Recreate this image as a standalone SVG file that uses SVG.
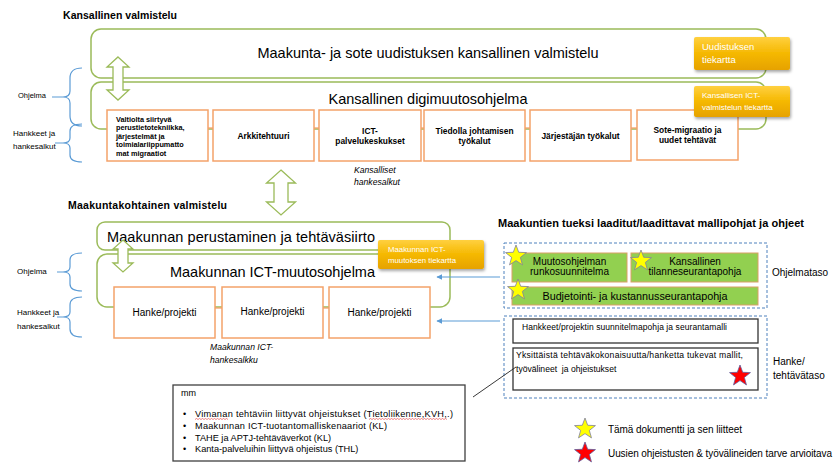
<svg xmlns="http://www.w3.org/2000/svg" width="836" height="468" viewBox="0 0 836 468">
<defs>
<style>
text{font-family:"Liberation Sans",Arial,sans-serif;fill:#000}
.h{font-weight:bold;font-size:10.5px}
.big{font-size:14.5px}
.gbox{fill:#fff;stroke:#9bbb59;stroke-width:1.5}
.obox{fill:#fff;stroke:#f4a26a;stroke-width:1.5}
.ob{font-weight:bold;font-size:8.4px}
.lbl{font-size:8px}
.it{font-style:italic;font-size:8.6px}
.brace{fill:none;stroke:#5b9bd5;stroke-width:1.2}
.dash{fill:none;stroke:#4f81bd;stroke-width:1;stroke-dasharray:3 2}
.grn{fill:#92d050;stroke:#d9a066;stroke-width:1}
.wbox{fill:#fff;stroke:#333;stroke-width:1.3}
.ybox{fill:url(#gold);filter:url(#sh)}
.yt{fill:#fff}
.darr{fill:#fff;stroke:#9bbb59;stroke-width:1.3}
.conn{stroke:#f4a26a;stroke-width:1.3}
.barr{stroke:#5b9bd5;stroke-width:1.2;marker-end:url(#bh)}
.ystar{fill:#ffff00;stroke:#8080a0;stroke-width:0.8}
.rstar{fill:#ff0000;stroke:#6060a0;stroke-width:0.8}
.sq{fill:none;stroke:#e03030;stroke-width:0.6}
</style>
<linearGradient id="gold" x1="0" y1="0" x2="0" y2="1">
<stop offset="0" stop-color="#ffd040"/>
<stop offset="0.5" stop-color="#f5b800"/>
<stop offset="1" stop-color="#e6a200"/>
</linearGradient>
<filter id="sh" x="-10%" y="-20%" width="130%" height="150%">
<feDropShadow dx="1" dy="2" stdDeviation="1.5" flood-color="#000" flood-opacity="0.35"/>
</filter>
<marker id="bh" viewBox="0 0 10 10" refX="9" refY="5" markerWidth="6" markerHeight="6" orient="auto" markerUnits="userSpaceOnUse">
<path d="M0,0 L10,5 L0,10 z" fill="#5b9bd5"/>
</marker>
<path id="star" d="M0,-11 L2.7,-3.72 L10.46,-3.4 L4.37,1.42 L6.47,8.9 L0,4.6 L-6.47,8.9 L-4.37,1.42 L-10.46,-3.4 L-2.7,-3.72 Z"/>
</defs>

<!-- Headings -->
<text class="h" x="63" y="19" textLength="114">Kansallinen valmistelu</text>
<text class="h" x="68" y="209" textLength="159">Maakuntakohtainen valmistelu</text>
<text class="h" style="font-size:11px" x="498" y="227" textLength="306">Maakuntien tueksi laaditut/laadittavat mallipohjat ja ohjeet</text>

<!-- Left labels and braces -->
<g id="labels-left">
<text class="lbl" style="font-size:7.5px" x="18" y="97.5">Ohjelma</text>
<text class="lbl" x="13" y="136">Hankkeet ja</text>
<text class="lbl" x="13" y="149">hankesalkut</text>
<text class="lbl" x="17" y="274">Ohjelma</text>
<text class="lbl" x="17" y="315">Hankkeet ja</text>
<text class="lbl" x="17" y="329">hankesalkut</text>
<path class="brace" d="M82,68 Q70,68 70,78 L70,91 Q70,97 63,97 Q70,97 70,103 L70,116 Q70,126 82,126 M52,97 L63,97"/>
<path class="brace" d="M82,124 Q70,124 70,131 L70,138 Q70,143 63,143 Q70,143 70,148 L70,155 Q70,162 82,162 M55,143 L63,143"/>
<path class="brace" d="M82,253 Q70,253 70,260 L70,267 Q70,272 63,272 Q70,272 70,277 L70,284 Q70,291 82,291 M57,272 L63,272"/>
<path class="brace" d="M82,297 Q70,297 70,305 L70,312 Q70,317 63,317 Q70,317 70,322 L70,329 Q70,337 82,337 M57,317 L63,317"/>
</g>

<!-- National level -->
<g id="kansallinen-valmistelu">
<rect class="gbox" x="91" y="29" width="675" height="49" rx="10"/>
<text class="big" x="428" y="58" text-anchor="middle" textLength="341">Maakunta- ja sote uudistuksen kansallinen valmistelu</text>
</g>
<g id="digimuutosohjelma">
<rect class="gbox" x="91" y="82" width="675" height="47" rx="10"/>
<text class="big" x="428" y="104" text-anchor="middle" textLength="199">Kansallinen digimuutosohjelma</text>
</g>

<g id="p1">
<rect class="obox" x="107" y="110" width="101" height="51"/>
<text class="ob" style="font-size:7.3px" x="116" y="121.5">Valtiolta siirtyvä</text>
<text class="ob" style="font-size:7.3px" x="116" y="130">perustietotekniikka,</text>
<text class="ob" style="font-size:7.3px" x="116" y="138.5">järjestelmät ja</text>
<text class="ob" style="font-size:7.3px" x="116" y="147">toimialariippumatto</text>
<text class="ob" style="font-size:7.3px" x="116" y="155.5">mat migraatiot</text>
</g>
<g id="p2">
<rect class="obox" x="213" y="110" width="101" height="51"/>
<text class="ob" x="263.5" y="138.5" text-anchor="middle">Arkkitehtuuri</text>
</g>
<g id="p3">
<rect class="obox" x="319" y="110" width="102" height="51"/>
<text class="ob" x="370" y="133.5" text-anchor="middle">ICT-</text>
<text class="ob" x="370" y="143.5" text-anchor="middle">palvelukeskukset</text>
</g>
<g id="p4">
<rect class="obox" x="424" y="110" width="101" height="51"/>
<text class="ob" x="474.5" y="133.5" text-anchor="middle">Tiedolla johtamisen</text>
<text class="ob" x="474.5" y="143.5" text-anchor="middle">työkalut</text>
</g>
<g id="p5">
<rect class="obox" x="530" y="110" width="101" height="51"/>
<text class="ob" x="580.5" y="138.5" text-anchor="middle">Järjestäjän työkalut</text>
</g>
<g id="p6">
<rect class="obox" x="637" y="110" width="101" height="50"/>
<text class="ob" x="687.5" y="133" text-anchor="middle">Sote-migraatio ja</text>
<text class="ob" x="687.5" y="143" text-anchor="middle">uudet tehtävät</text>
</g>

<g id="uudistuksen-tiekartta">
<rect class="ybox" x="694" y="37" width="96" height="33" rx="2"/>
<text class="yt" style="font-size:9.5px" x="702" y="50">Uudistuksen</text>
<text class="yt" style="font-size:9.5px" x="702" y="63">tiekartta</text>
</g>
<g id="ict-tiekartta">
<rect class="ybox" x="694" y="86" width="96" height="31" rx="2"/>
<text class="yt" style="font-size:8px" x="702" y="98">Kansallisen ICT-</text>
<text class="yt" style="font-size:8px" x="702" y="110">valmistelun tiekartta</text>
</g>

<text class="it" x="354" y="173">Kansalliset</text>
<text class="it" x="354" y="185">hankesalkut</text>

<!-- Regional level -->
<g id="perustaminen">
<rect class="gbox" x="97" y="222" width="353" height="28" rx="8"/>
<text class="big" x="107" y="242" textLength="268">Maakunnan perustaminen ja tehtäväsiirto</text>
</g>
<g id="ict-muutosohjelma">
<rect class="gbox" x="97" y="254" width="353" height="53" rx="10"/>
<text class="big" x="170" y="277" textLength="205">Maakunnan ICT-muutosohjelma</text>
</g>

<g id="maakunta-tiekartta">
<rect class="ybox" x="378" y="240" width="106" height="29" rx="2"/>
<text class="yt" style="font-size:7.8px" x="388" y="252">Maakunnan ICT-</text>
<text class="yt" style="font-size:7.8px" x="388" y="263">muutoksen tiekartta</text>
</g>

<g id="h1">
<rect class="obox" x="114" y="287" width="101" height="51"/>
<text x="164.5" y="316" text-anchor="middle" style="font-size:10px">Hanke/projekti</text>
</g>
<g id="h2">
<rect class="obox" x="222" y="287" width="101" height="51"/>
<text x="272.5" y="315" text-anchor="middle" style="font-size:10px">Hanke/projekti</text>
</g>
<g id="h3">
<rect class="obox" x="329" y="287" width="101" height="51"/>
<text x="379.5" y="316" text-anchor="middle" style="font-size:10px">Hanke/projekti</text>
</g>

<text class="it" x="210" y="350">Maakunnan ICT-</text>
<text class="it" x="210" y="363">hankesalkku</text>

<!-- Right side templates -->
<g id="ohjelmataso">
<rect class="dash" x="504" y="243" width="263" height="65"/>
<text x="772" y="275.5" style="font-size:10px">Ohjelmataso</text>
</g>
<g id="runkosuunnitelma">
<rect class="grn" x="512" y="253" width="115" height="29"/>
<text x="569.5" y="265" text-anchor="middle" style="font-size:10px">Muutosohjelman</text>
<text x="569.5" y="275" text-anchor="middle" style="font-size:10px">runkosuunnitelma</text>
</g>
<g id="tilanneseuranta">
<rect class="grn" x="631" y="253" width="127" height="29"/>
<text x="695" y="265" text-anchor="middle" style="font-size:10px">Kansallinen</text>
<text x="695" y="275" text-anchor="middle" style="font-size:10px">tilanneseurantapohja</text>
</g>
<g id="budjetointi">
<rect class="grn" x="512" y="287" width="246" height="18"/>
<text x="635" y="300" text-anchor="middle" style="font-size:10.8px" textLength="185">Budjetointi- ja kustannusseurantapohja</text>
</g>
<use href="#star" class="ystar" x="516" y="256"/>
<use href="#star" class="ystar" x="641" y="261"/>
<use href="#star" class="ystar" x="518" y="290"/>

<g id="tehtavataso">
<rect class="dash" x="504" y="316" width="263" height="82"/>
<text x="773" y="365" style="font-size:10px">Hanke/</text>
<text x="773" y="378.5" style="font-size:10px">tehtävätaso</text>
</g>
<g id="suunnitelmapohja">
<rect class="wbox" x="513" y="319" width="245" height="24"/>
<text x="522" y="330" style="font-size:8.5px" textLength="205">Hankkeet/projektin suunnitelmapohja ja seurantamalli</text>
</g>
<g id="mallit">
<rect class="wbox" x="513" y="348" width="245" height="42"/>
<text x="516" y="358" style="font-size:8.6px" textLength="227">Yksittäistä tehtäväkokonaisuutta/hanketta tukevat mallit,</text>
<text x="516" y="371.5" style="font-size:8.6px" xml:space="preserve">työvälineet  ja ohjeistukset</text>
<use href="#star" class="rstar" x="740" y="376"/>
</g>

<!-- mm box -->
<g id="mm-list">
<rect x="173" y="385" width="292" height="76" fill="#fff" stroke="#404040" stroke-width="1.3"/>
<text x="181" y="396" style="font-size:9px">mm</text>
<text x="183" y="417" style="font-size:9px">•</text>
<text x="183" y="429" style="font-size:9px">•</text>
<text x="183" y="440.5" style="font-size:9px">•</text>
<text x="183" y="452" style="font-size:9px">•</text>
<text x="195" y="417" style="font-size:9.2px" textLength="258">Vimanan tehtäviin liittyvät ohjeistukset (Tietoliikenne,KVH,.)</text>
<text x="195" y="429" style="font-size:9.2px" textLength="192">Maakunnan ICT-tuotantomalliskenaariot (KL)</text>
<text x="195" y="440.5" style="font-size:9.2px">TAHE ja APTJ-tehtäväverkot (KL)</text>
<text x="195" y="452" style="font-size:9.2px">Kanta-palveluihin liittyvä ohjeistus (THL)</text>
<path class="sq" d="M195,419.5 l1.5,-1 l1.5,1 l1.5,-1 l1.5,1 l1.5,-1 l1.5,1 l1.5,-1 l1.5,1 l1.5,-1 l1.5,1 l1.5,-1 l1.5,1 l1.5,-1 l1.5,1 l1.5,-1 l1.5,1 l1.5,-1 l1.5,1 l1.5,-1 l1.5,1 l1.5,-1 l1.5,1"/>
<path class="sq" d="M369,419.5 l1.5,-1 l1.5,1 l1.5,-1 l1.5,1 l1.5,-1 l1.5,1 l1.5,-1 l1.5,1 l1.5,-1 l1.5,1 l1.5,-1 l1.5,1 l1.5,-1 l1.5,1 l1.5,-1 l1.5,1 l1.5,-1 l1.5,1 l1.5,-1 l1.5,1 l1.5,-1 l1.5,1 l1.5,-1 l1.5,1 l1.5,-1 l1.5,1 l1.5,-1 l1.5,1 l1.5,-1 l1.5,1 l1.5,-1 l1.5,1 l1.5,-1 l1.5,1 l1.5,-1 l1.5,1 l1.5,-1 l1.5,1 l1.5,-1 l1.5,1 l1.5,-1 l1.5,1 l1.5,-1 l1.5,1 l1.5,-1 l1.5,1 l1.5,-1 l1.5,1 l1.5,-1 l1.5,1 l1.5,-1 l1.5,1"/>
</g>

<!-- Legend -->
<g id="legend">
<use href="#star" class="ystar" x="585" y="429"/>
<text x="608" y="432.5" style="font-size:10px" textLength="134">Tämä dokumentti ja sen liitteet</text>
<use href="#star" class="rstar" x="585" y="453"/>
<text x="608" y="456.5" style="font-size:10px" textLength="224">Uusien ohjeistusten &amp; työvälineiden tarve arvioitava</text>
</g>

<g id="connectors">
<line class="conn" x1="208" y1="128" x2="213" y2="128"/>
<line class="conn" x1="314" y1="128" x2="319" y2="128"/>
<line class="conn" x1="421" y1="128" x2="424" y2="128"/>
<line class="conn" x1="525" y1="128" x2="530" y2="128"/>
<line class="conn" x1="631" y1="128" x2="637" y2="128"/>
<line class="conn" x1="215" y1="308" x2="222" y2="308"/>
<line class="conn" x1="323" y1="308" x2="329" y2="308"/>
<line class="barr" x1="500" y1="277" x2="437" y2="277"/>
<line class="barr" x1="500" y1="321" x2="437" y2="321"/>
<line x1="473" y1="397" x2="516" y2="367" stroke="#222" stroke-width="0.9"/>
<polygon class="darr" points="118,57 129,67 123,67 123,90 129,90 118,100 107,90 113,90 113,67 107,67"/>
<polygon class="darr" points="281,170 295.5,183 288,183 288,202 295.5,202 281,215 266.5,202 274,202 274,183 266.5,183"/>
<polygon class="darr" points="123,240 133,249 128,249 128,263 133,263 123,272 113,263 118,263 118,249 113,249"/>
</g>
</svg>
